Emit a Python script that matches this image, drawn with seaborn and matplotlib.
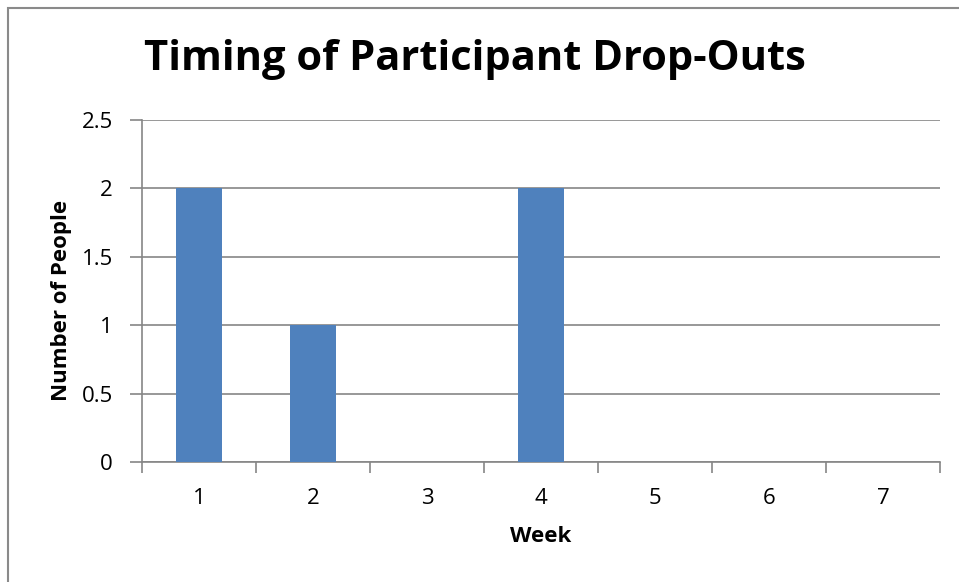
import numpy as np
import pandas as pd
import matplotlib
matplotlib.use("Agg")
import matplotlib.pyplot as plt
from matplotlib.patches import Rectangle
import seaborn as sns

# data
weeks = ["1", "2", "3", "4", "5", "6", "7"]
people = [2, 1, 0, 2, 0, 0, 0]
y_ticks = [0, 0.5, 1, 1.5, 2, 2.5]
y_tick_labels = ["0", "0.5", "1", "1.5", "2", "2.5"]

sns.set_theme(style="white")
plt.rcParams['font.family'] = ['Open Sans', 'DejaVu Sans']

df = pd.DataFrame({"week": weeks, "people": people})

fig = plt.figure(figsize=(9.59, 5.82), dpi=100)
# plot area: x 142..940 px, y 120..462 px from top
ax = fig.add_axes([142 / 959, (582 - 462) / 582, 798 / 959, 342 / 582])

sns.barplot(data=df, x="week", y="people", color="#4F81BD", saturation=1,
            width=0.4, linewidth=0, edgecolor="none", ax=ax, zorder=3)

grid_col = "#868686"
ax.set_xlim(-0.5, len(weeks) - 0.5)
ax.set_ylim(0, 2.5)
ax.set_yticks(y_ticks)
ax.set_yticklabels(y_tick_labels)
ax.yaxis.grid(True, color=grid_col, lw=1.2, zorder=0)
ax.set_axisbelow(True)

ax.set_xticks(np.arange(-0.5, len(weeks)), minor=True)
ax.tick_params(axis="x", which="major", length=0, pad=19, labelsize=16, labelcolor="black")
ax.tick_params(axis="x", which="minor", length=8, width=1.2, color=grid_col, direction="out", bottom=True)
ax.tick_params(axis="y", which="major", length=9, width=1.2, color=grid_col, direction="out",
               left=True, pad=12, labelsize=16, labelcolor="black")

for s in ["top", "right"]:
    ax.spines[s].set_visible(False)
for s in ["left", "bottom"]:
    ax.spines[s].set_color(grid_col)
    ax.spines[s].set_linewidth(1.2)

ax.set_xlabel("Week", fontsize=16, fontweight="bold", color="black", va="center")
ax.set_ylabel("Number of People", fontsize=16, fontweight="bold", color="black", va="center")
ax.xaxis.set_label_coords(399 / 798, -74 / 342)
ax.yaxis.set_label_coords(-80 / 798, 162 / 342)

fig.text(475 / 959, 1 - 59 / 582, "Timing of Participant Drop-Outs", ha="center", va="center",
         fontsize=30, fontweight="bold", color="black")

# chart border (runs off the right and bottom edge)
fig.patches.append(Rectangle((8 / 959, -0.1), 1.2, 1.1 - 8 / 582, transform=fig.transFigure,
                             fill=False, edgecolor="#8a8a8a", lw=1.5, clip_on=False))

fig.savefig("out.png", dpi=100)
